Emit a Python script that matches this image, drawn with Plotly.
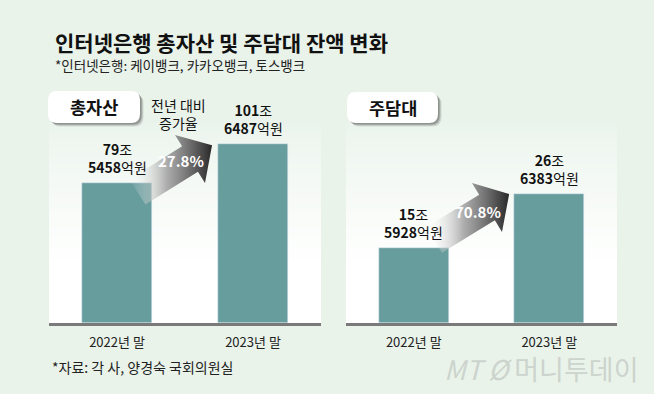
import math
import plotly.graph_objects as go

# ---------------- data ----------------
categories = ["2022년 말", "2023년 말"]
total_jo = [79, 101]          # 총자산 (조)
total_eok = [5458, 6487]      # 총자산 (억원 remainder)
mortgage_jo = [15, 26]        # 주담대 (조)
mortgage_eok = [5928, 6383]   # 주담대 (억원 remainder)
growth_labels = ["27.8%", "70.8%"]
panel_titles = ["총자산", "주담대"]

total_values = [j + e / 10000 for j, e in zip(total_jo, total_eok)]
mortgage_values = [j + e / 10000 for j, e in zip(mortgage_jo, mortgage_eok)]

# ---------------- style ----------------
W, H = 654, 394
BG = "#e9f3ea"
BAR = "#689d9e"
FONT = "Noto Sans CJK KR"


def px(x):
    return x / W


def py(y):
    return 1 - y / H


def lerp_color(c1, c2, t):
    a = [int(c1[i:i + 2], 16) for i in (1, 3, 5)]
    b = [int(c2[i:i + 2], 16) for i in (1, 3, 5)]
    return "#%02x%02x%02x" % tuple(round(a[k] + (b[k] - a[k]) * t) for k in range(3))


fig = go.Figure()

# bars
fig.add_bar(x=categories, y=total_values, marker_color=BAR, width=0.515,
            xaxis="x", yaxis="y", hoverinfo="skip")
fig.add_bar(x=categories, y=mortgage_values, marker_color=BAR, width=0.515,
            xaxis="x2", yaxis="y2", hoverinfo="skip")

panels = [(49, 321), (346, 617)]
base_y = 323
top_y = 100

shapes = []
# white panels fading to background at the top
fade_top, fade_bot = 118, 268
N = 30
for (x0, x1) in panels:
    shapes.append(dict(type="rect", xref="paper", yref="paper", layer="below",
                       x0=px(x0), x1=px(x1), y0=py(base_y), y1=py(fade_bot),
                       fillcolor="#ffffff", line_width=0))
    for i in range(N):
        ya = fade_top + (fade_bot - fade_top) * i / N
        yb = fade_top + (fade_bot - fade_top) * (i + 1) / N
        t = ((i + 0.5) / N) ** 0.8
        shapes.append(dict(type="rect", xref="paper", yref="paper", layer="below",
                           x0=px(x0), x1=px(x1), y0=py(yb), y1=py(ya) + 0.0005,
                           fillcolor=lerp_color(BG, "#ffffff", t), line_width=0))


def rrect(x0, y0, x1, y1, r):
    X = lambda v: px(v)
    Y = lambda v: py(v)
    return (f"M {X(x0 + r)},{Y(y0)} L {X(x1 - r)},{Y(y0)} "
            f"Q {X(x1)},{Y(y0)} {X(x1)},{Y(y0 + r)} L {X(x1)},{Y(y1 - r)} "
            f"Q {X(x1)},{Y(y1)} {X(x1 - r)},{Y(y1)} L {X(x0 + r)},{Y(y1)} "
            f"Q {X(x0)},{Y(y1)} {X(x0)},{Y(y1 - r)} L {X(x0)},{Y(y0 + r)} "
            f"Q {X(x0)},{Y(y0)} {X(x0 + r)},{Y(y0)} Z")


tabs = [(48, 91, 140, 123), (347, 92, 438, 123)]
for (x0, y0, x1, y1) in tabs:
    for off, alpha in [(3.5, 0.10), (2.5, 0.15), (1.5, 0.2)]:
        shapes.append(dict(type="path", xref="paper", yref="paper", layer="below",
                           path=rrect(x0 + off, y0 + off, x1 + off, y1 + off, 9),
                           fillcolor=f"rgba(0,0,0,{alpha})", line_width=0))
    shapes.append(dict(type="path", xref="paper", yref="paper", layer="below",
                       path=rrect(x0, y0, x1, y1, 9), fillcolor="#ffffff", line_width=0))

annotations = []
# title and subtitle
annotations.append(dict(xref="paper", yref="paper", x=px(53), y=py(42), xanchor="left",
                        yanchor="middle", showarrow=False,
                        text="<b>인터넷은행 총자산 및 주담대 잔액 변화</b>",
                        font=dict(family=FONT, size=21, color="#111111")))
annotations.append(dict(xref="paper", yref="paper", x=px(53), y=py(65), xanchor="left",
                        yanchor="middle", showarrow=False,
                        text="*인터넷은행: 케이뱅크, 카카오뱅크, 토스뱅크",
                        font=dict(family=FONT, size=13.5, color="#222222")))
# tab labels
for (x0, y0, x1, y1), t in zip(tabs, panel_titles):
    annotations.append(dict(xref="paper", yref="paper", x=px((x0 + x1) / 2), y=py((y0 + y1) / 2),
                            xanchor="center", yanchor="middle", showarrow=False,
                            text=f"<b>{t}</b>", font=dict(family=FONT, size=17.5, color="#111111")))

# bar value labels
for ax, jo, eok, vals in [("", total_jo, total_eok, total_values),
                          ("2", mortgage_jo, mortgage_eok, mortgage_values)]:
    for c, j, e, v in zip(categories, jo, eok, vals):
        annotations.append(dict(xref="x" + ax, yref="y" + ax, x=c, y=v, xanchor="center",
                                yanchor="bottom", yshift=4, showarrow=False,
                                text=f"<b>{j}</b>조<br><b>{e}</b>억원",
                                font=dict(family=FONT, size=14, color="#111111")))

annotations.append(dict(xref="paper", yref="paper", x=px(178), y=py(114), xanchor="center",
                        yanchor="middle", showarrow=False, text="전년 대비<br>증가율",
                        font=dict(family=FONT, size=14, color="#111111")))

# source + logo
annotations.append(dict(xref="paper", yref="paper", x=px(50), y=py(367), xanchor="left",
                        yanchor="middle", showarrow=False, text="*자료: 각 사, 양경숙 국회의원실",
                        font=dict(family=FONT, size=14, color="#222222")))
annotations.append(dict(xref="paper", yref="paper", x=px(640), y=py(368), xanchor="right",
                        yanchor="middle", showarrow=False, text="<i>MT</i> <i>Ø</i> 머니투데이",
                        font=dict(family=FONT, size=27, color="#cdd3cd")))


# gradient arrows (pixel-space overlay)
def arrow_poly(base_top, base_bot, tip_len, body_hw, body_len):
    (ax_, ay_), (bx_, by_) = base_top, base_bot
    cx, cy = (ax_ + bx_) / 2, (ay_ + by_) / 2
    vx, vy = bx_ - ax_, by_ - ay_
    L = math.hypot(vx, vy)
    nx, ny = vx / L, vy / L          # along base (toward bottom corner)
    ux, uy = ny, -nx                 # forward direction (up-right)
    tip = (cx + ux * tip_len, cy + uy * tip_len)
    s1 = (cx - nx * body_hw, cy - ny * body_hw)
    s2 = (cx + nx * body_hw, cy + ny * body_hw)
    t1 = (s1[0] - ux * body_len, s1[1] - uy * body_len)
    t2 = (s2[0] - ux * body_len, s2[1] - uy * body_len)
    pts = [t1, s1, base_top, tip, base_bot, s2, t2, t1]
    return [p[0] for p in pts], [p[1] for p in pts], t1[0], tip[0]


arrows = [((175, 135), (205, 183), 26, 15, 62, (181, 161)),
          ((472, 183), (502, 232), 26, 15, 62, (478, 212))]
for (bt, bb, tl, hw, bl, tpos), g in zip(arrows, growth_labels):
    xs, ys, xa, xb = arrow_poly(bt, bb, tl, hw, bl)
    fig.add_scatter(x=xs, y=ys, mode="lines", line=dict(width=0), fill="toself",
                    fillgradient=dict(type="horizontal",
                                      colorscale=[[0, "rgba(255,255,255,0)"],
                                                  [0.45, "rgba(160,160,160,0.85)"],
                                                  [1, "rgba(40,40,40,1)"]],
                                      start=xa, stop=xb),
                    xaxis="x3", yaxis="y3", hoverinfo="skip", showlegend=False)
    annotations.append(dict(xref="paper", yref="paper", x=px(tpos[0]), y=py(tpos[1]),
                            xanchor="center", yanchor="middle", showarrow=False,
                            text=f"<b>{g}</b>",
                            font=dict(family=FONT, size=15, color="#ffffff")))

axis_common = dict(type="category", showgrid=False, zeroline=False, ticks="",
                   showline=True, linecolor="#7a7a7a", linewidth=3,
                   tickfont=dict(family=FONT, size=13, color="#222222"),
                   ticklabelstandoff=5, fixedrange=True, range=[-0.5, 1.5])

fig.update_layout(
    width=W, height=H, margin=dict(l=0, r=0, t=0, b=0),
    paper_bgcolor=BG, plot_bgcolor="rgba(0,0,0,0)", showlegend=False,
    font=dict(family=FONT),
    xaxis=dict(domain=[px(49), px(321)], anchor="y", **axis_common),
    yaxis=dict(domain=[py(base_y), py(top_y)], range=[0, 126.3], visible=False,
               fixedrange=True, anchor="x"),
    xaxis2=dict(domain=[px(346), px(617)], anchor="y2", **axis_common),
    yaxis2=dict(domain=[py(base_y), py(top_y)], range=[0, 46.2], visible=False,
                fixedrange=True, anchor="x2"),
    xaxis3=dict(domain=[0, 1], range=[0, W], visible=False, fixedrange=True, anchor="y3"),
    yaxis3=dict(domain=[0, 1], range=[H, 0], visible=False, fixedrange=True, anchor="x3"),
    shapes=shapes, annotations=annotations, bargap=0,
)

fig.write_html("out.html", config={"displayModeBar": False},
               post_script="document.body.style.margin='0';document.body.style.overflow='hidden';")
